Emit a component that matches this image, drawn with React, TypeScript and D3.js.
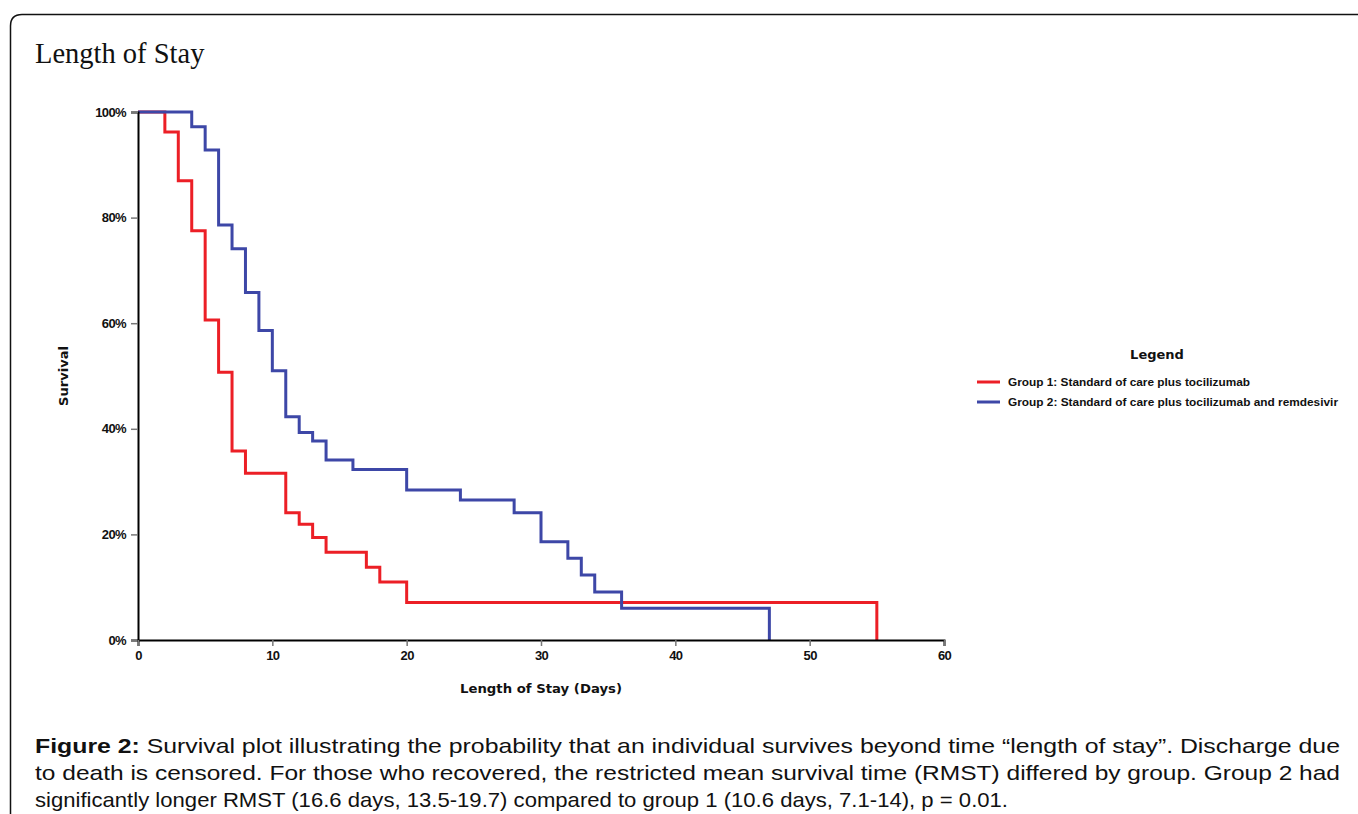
import React from 'react'
import * as d3 from 'd3'

// Kaplan-Meier steps (days, survival %)
const group1Days = [0, 2, 3, 4, 5, 6, 7, 8, 11, 12, 13, 14, 17, 18, 20, 55]
const group1Survival = [100, 96.2, 87.0, 77.5, 60.6, 50.7, 35.8, 31.6, 24.1, 21.9, 19.4, 16.6, 13.8, 11.0, 7.1, 0]
const group2Days = [0, 4, 5, 6, 7, 8, 9, 10, 11, 12, 13, 14, 16, 20, 24, 28, 30, 32, 33, 34, 36, 47]
const group2Survival = [100, 97.2, 92.8, 78.6, 74.1, 65.8, 58.6, 51.0, 42.3, 39.3, 37.7, 34.1, 32.3, 28.4, 26.5, 24.1, 18.6, 15.5, 12.3, 9.1, 6.0, 0]

const xTicks = [0, 10, 20, 30, 40, 50, 60]
const yTicks = [0, 20, 40, 60, 80, 100]
const legendLabels = [
  'Group 1: Standard of care plus tocilizumab',
  'Group 2: Standard of care plus tocilizumab and remdesivir'
]
const captionLines = [
  'Survival plot illustrating the probability that an individual survives beyond time \u201clength of stay\u201d. Discharge due',
  'to death is censored. For those who recovered, the restricted mean survival time (RMST) differed by group. Group 2 had',
  'significantly longer RMST (16.6 days, 13.5-19.7) compared to group 1 (10.6 days, 7.1-14), p = 0.01.'
]

const RED = '#ec1f26'
const BLUE = '#3d47a7'
const sans = '"Liberation Sans", Arial, sans-serif'
const tahoma = '"DejaVu Sans", Verdana, sans-serif'

function App() {
  const width = 1358
  const height = 814
  const left = 138
  const right = 944
  const top = 112
  const bottom = 640

  const xAxisRef = React.useRef(null)
  const yAxisRef = React.useRef(null)

  const xScale = d3.scaleLinear().domain([0, 60]).range([left, right])
  const yScale = d3.scaleLinear().domain([0, 100]).range([bottom, top])

  const line = d3
    .line<[number, number]>()
    .x(d => xScale(d[0]))
    .y(d => yScale(d[1]))
    .curve(d3.curveStepAfter)

  const g1 = group1Days.map((d, i) => [d, group1Survival[i]] as [number, number])
  const g2 = group2Days.map((d, i) => [d, group2Survival[i]] as [number, number])

  React.useEffect(() => {
    const xAxis = d3.axisBottom(xScale).tickValues(xTicks).tickSizeOuter(0).tickSize(6).tickPadding(5)
    const yAxis = d3
      .axisLeft(yScale)
      .tickValues(yTicks)
      .tickSizeOuter(0)
      .tickSize(7)
      .tickPadding(5)
      .tickFormat(d => d + '%')

    const gx = d3.select(xAxisRef.current).call(xAxis)
    const gy = d3.select(yAxisRef.current).call(yAxis)
    ;[gx, gy].forEach(g => {
      g.select('.domain').attr('stroke', '#000').attr('stroke-width', 2)
      g.selectAll('.tick line').attr('stroke', '#777').attr('stroke-width', 1.5)
      g.selectAll('.tick text')
        .attr('fill', '#111')
        .style('font-family', sans)
        .style('font-weight', 'bold')
        .style('font-size', '13px')
        .style('letter-spacing', '-0.6px')
    })
  }, [])

  return (
    <svg width={width} height={height} style={{ position: 'absolute', left: 0, top: 0, background: '#fff' }}>
      {/* frame */}
      <path d={`M10.5,${height + 5} L10.5,26 Q10.5,14.5 22,14.5 L${width + 5},14.5`} fill="none" stroke="#111" strokeWidth={1.5} />

      <text x={35} y={63} fontFamily='"Liberation Serif", "Times New Roman", serif' fontSize={28.5} fill="#111">
        Length of Stay
      </text>

      <path d={line(g1) || ''} fill="none" stroke={RED} strokeWidth={3} />
      <path d={line(g2) || ''} fill="none" stroke={BLUE} strokeWidth={3} />

      <g ref={yAxisRef} transform={`translate(${left},0)`} />
      <g ref={xAxisRef} transform={`translate(0,${bottom})`} />

      <text
        transform={`translate(68,${(top + bottom) / 2}) rotate(-90)`}
        textAnchor="middle"
        fontFamily={tahoma}
        fontWeight="bold"
        fontSize={12.5}
        fill="#111"
        textLength={60}
        lengthAdjust="spacingAndGlyphs"
      >
        Survival
      </text>
      <text
        x={541}
        y={693}
        textAnchor="middle"
        fontFamily={tahoma}
        fontWeight="bold"
        fontSize={13}
        fill="#111"
        textLength={162}
        lengthAdjust="spacingAndGlyphs"
      >
        Length of Stay (Days)
      </text>

      {/* legend */}
      <text x={1157} y={359} textAnchor="middle" fontFamily={tahoma} fontWeight="bold" fontSize={13} fill="#111">
        Legend
      </text>
      {legendLabels.map((label, i) => (
        <g key={i} transform={`translate(977,${382 + i * 20})`}>
          <line x1={0} x2={23} y1={0} y2={0} stroke={i === 0 ? RED : BLUE} strokeWidth={3} />
          <text
            x={31}
            y={4}
            fontFamily={sans}
            fontWeight="bold"
            fontSize={11}
            fill="#111"
            textLength={i === 0 ? 242 : 330}
            lengthAdjust="spacingAndGlyphs"
          >
            {label}
          </text>
        </g>
      ))}

      {/* caption */}
      {captionLines.map((txt, i) => (
        <text
          key={i}
          x={35}
          y={753 + i * 27}
          fontFamily={sans}
          fontSize={21}
          fill="#111"
          textLength={i === 2 ? 973 : 1305}
          lengthAdjust="spacingAndGlyphs"
        >
          {i === 0 && <tspan fontWeight="bold">Figure 2: </tspan>}
          {txt}
        </text>
      ))}
    </svg>
  )
}

export default App
